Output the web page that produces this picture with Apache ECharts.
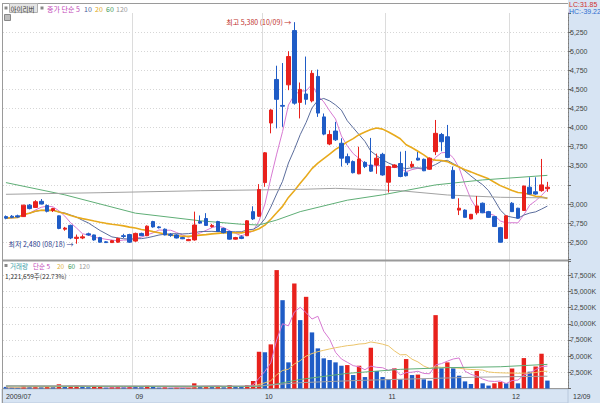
<!DOCTYPE html>
<html><head><meta charset="utf-8">
<script src="https://cdn.jsdelivr.net/npm/echarts@6/dist/echarts.min.js"></script>
<style>html,body{margin:0;padding:0;background:#fff}#c{width:600px;height:403px}</style>
</head><body><div id="c"></div>
<script>
// ---- data ----
const dates = ['07/31',
'08/03','08/04','08/05','08/06','08/07','08/10','08/11','08/12','08/13','08/14','08/17','08/18','08/19','08/20','08/21','08/24','08/25','08/26','08/27','08/28','08/31',
'09/01','09/02','09/03','09/04','09/07','09/08','09/09','09/10','09/11','09/14','09/15','09/16','09/17','09/18','09/21','09/22','09/23','09/24','09/25','09/28','09/29','09/30',
'10/01','10/05','10/06','10/07','10/08','10/09','10/12','10/13','10/14','10/15','10/16','10/19','10/20','10/21','10/22','10/23','10/26','10/27','10/28','10/29','10/30',
'11/02','11/03','11/04','11/05','11/06','11/09','11/10','11/11','11/12','11/13','11/16','11/17','11/18','11/19','11/20','11/23','11/24','11/25','11/26','11/27','11/30',
'12/01','12/02','12/03','12/04','12/07','12/08','12/09'];
const padCats = [' ', '  ', '   '];
const openP = [2835,2840,2845,2835,2985,2955,3035,2980,2915,2845,2670,2720,2550,2555,2610,2595,2560,2505,2495,2500,2585,2600,2515,2615,2585,2770,2700,2670,2600,2595,2560,2520,2530,2770,2810,2705,2770,2680,2640,2540,2570,2585,2900,2840,3280,4060,4630,4290,4560,5270,4330,4440,4350,4670,4140,3785,3955,3795,3620,3555,3395,3545,3510,3510,3650,3285,3480,3530,3410,3490,3600,3585,3455,3685,3910,3880,3440,2920,2920,2805,2885,3010,2900,2835,2690,2550,3010,2945,2915,3220,3160,3175,3200];
const closeP = [2815,2825,2830,2985,2940,3030,3000,2905,2940,2680,2685,2555,2565,2570,2595,2530,2500,2495,2520,2550,2575,2500,2615,2585,2710,2700,2690,2595,2590,2555,2545,2535,2725,2750,2720,2720,2640,2625,2540,2560,2550,2780,2805,3190,3670,4230,4370,4280,4930,4320,4500,4370,4710,4190,3915,3910,3840,3600,3540,3410,3590,3490,3430,3600,3380,3490,3510,3360,3370,3520,3575,3435,3600,3925,3815,3610,3075,2945,2825,2865,2975,2885,2825,2705,2500,2845,2900,2815,3235,3130,3130,3250,3220];
const highP = [2850,2855,2860,2990,3000,3050,3065,2995,2950,2850,2700,2730,2600,2600,2625,2600,2570,2515,2530,2560,2610,2610,2625,2625,2720,2780,2710,2680,2620,2605,2570,2545,2900,2850,2880,2740,2780,2690,2650,2570,2590,2790,2970,3260,3680,4240,4810,4845,5000,5380,4590,4930,4750,4760,4185,3965,4075,3860,3660,3570,3750,3560,3865,3660,3670,3500,3520,3685,3695,3560,3680,3595,3610,4100,3930,4035,3490,3075,2930,2870,3105,3020,2910,2840,2700,2850,3025,2950,3240,3350,3350,3590,3290];
const lowP = [2800,2815,2820,2830,2930,2950,2995,2890,2895,2670,2650,2540,2480,2540,2585,2520,2495,2490,2490,2495,2555,2490,2505,2580,2580,2690,2680,2590,2570,2550,2540,2515,2520,2740,2715,2690,2635,2615,2535,2535,2540,2580,2790,2830,3225,3925,3990,4010,4490,4300,4120,4300,4330,4140,3900,3770,3825,3490,3510,3400,3390,3470,3420,3395,3370,3150,3470,3350,3360,3470,3570,3430,3445,3640,3690,3600,3070,2855,2820,2800,2860,2880,2820,2700,2495,2545,2895,2810,2910,3125,3120,3160,3160];
// volume in thousands of shares
const volumeK = [250,180,150,420,300,350,200,280,220,650,300,420,480,350,200,260,280,150,220,300,200,380,300,200,420,300,150,200,120,180,120,150,800,350,390,250,300,200,540,300,250,540,1160,
5680,5600,6820,18300,13650,4040,16230,10570,14170,8670,6200,4660,4400,4040,3520,3620,2080,3520,1770,6300,2700,1770,1420,3120,1420,4550,2080,2150,1420,1200,11340,3120,4040,3120,1980,1100,700,2700,800,450,800,1000,800,3100,800,4700,2600,3400,5375,1222];
// long moving averages: [index, value]
const ma60Price = [[0,3280],[10,3120],[22,2880],[33,2780],[40,2735],[43,2725],[46,2790],[50,2900],[58,3050],[64,3120],[73,3250],[81,3315],[92,3375]];
const ma120Price = [[0,3127],[16,3148],[33,3174],[50,3192],[56,3205],[67,3174],[75,3118],[84,3088],[92,3080]];
const ma60Vol = [[0,390],[20,330],[43,320],[46,700],[50,1400],[58,2340],[67,2960],[75,3220],[84,3360],[92,3730]];
const ma120Vol = [[0,430],[43,400],[50,900],[60,1250],[70,1500],[80,1750],[92,1900]];
const monthLabelIdx = [0,22,44,65,86];
const monthLabels = ['2009/07','09','10','11','12'];
const monthLineIdx = [22,44,65,86];
const lastClose = 3220, lastChange = '-0.91%';
const highMark = {date:'10/09', value:5380};
const lowMark = {date:'08/18', value:2480};

// ---- build ----
const RED = '#e8211c', BLUE = '#1f5cc6';
const cats = dates.concat(padCats);
function sma(arr, n){
  return arr.map((_, i) => { const s = Math.max(0, i - n + 1); let t = 0; for (let k = s; k <= i; k++) t += arr[k]; return +(t / (i - s + 1)).toFixed(1); });
}
const kData = dates.map((d, i) => [openP[i], closeP[i], lowP[i], highP[i]]);
const volData = volumeK.map((v, i) => ({ value: v, itemStyle: { color: (i > 0 && v > volumeK[i - 1]) ? RED : BLUE } }));
const fmt = v => v.toLocaleString('en-US');
const NUMF = 'Liberation Sans, Arial, sans-serif';
const KRF = 'Noto Sans CJK KR, sans-serif';

function lineS(name, data, color, width, xi) {
  return { name, type: 'line', data, xAxisIndex: xi, yAxisIndex: xi, symbol: 'none', silent: true,
    lineStyle: { color, width }, z: 3, animation: false };
}
const xBase = (gi, showLabel) => ({
  type: 'category', gridIndex: gi, data: cats, boundaryGap: true,
  axisLine: { show: gi === 1, lineStyle: { color: '#9a9a9a', width: 1 } },
  axisTick: { show: false },
  axisLabel: showLabel ? {
    show: true, interval: (idx) => monthLabelIdx.includes(idx), align: 'left', margin: 4,
    formatter: (val, idx) => monthLabels[monthLabelIdx.indexOf(idx)], fontSize: 7, color: '#333', fontFamily: NUMF
  } : { show: false },
  splitLine: { show: true, interval: (idx) => monthLineIdx.includes(idx), lineStyle: { color: '#dcdcdc', width: 1 } }
});
const yBase = (gi, min, max, itv, f) => ({
  type: 'value', gridIndex: gi, position: 'right', min, max, interval: itv, scale: false,
  axisLine: { show: true, lineStyle: { color: '#8a8a8a' } },
  axisTick: { show: true, length: 3, lineStyle: { color: '#666' } },
  minorTick: { show: true, splitNumber: 5, length: 1, lineStyle: { color: '#777' } },
  axisLabel: { show: true, formatter: f, fontSize: 7, color: '#444', margin: 2, fontFamily: NUMF, showMinLabel: false, showMaxLabel: false },
  splitLine: { show: true, showMinLine: false, showMaxLine: false, lineStyle: { color: '#d6d6d6', type: [1, 2] } }
});

const chart = echarts.init(document.getElementById('c'), null, { renderer: 'svg' });
const t = (x, y, text, fill, extra) => Object.assign({ type: 'text', x, y, z: 50, silent: true,
  style: Object.assign({ text, fill, font: '7px ' + KRF, textVerticalAlign: 'middle' }, extra || {}) });

chart.setOption({
  animation: false,
  backgroundColor: '#fff',
  grid: [
    { left: 3, right: 32, top: 13, height: 248.3 },
    { left: 3, right: 32, top: 259.1, height: 129.4 }
  ],
  xAxis: [xBase(0, false), xBase(1, true)],
  yAxis: [
    yBase(0, 2250, 5500, 250, v => (Math.abs(v - lastClose) < 60 ? '' : fmt(v))),
    yBase(1, 0, 20000, 2500, v => fmt(v) + 'K')
  ],
  series: [
    { name: 'price', type: 'candlestick', data: kData, xAxisIndex: 0, yAxisIndex: 0, barWidth: 4, z: 5,
      itemStyle: { color: RED, color0: BLUE, borderColor: RED, borderColor0: BLUE, borderWidth: 1 },
      markPoint: { symbol: 'circle', symbolSize: 0, silent: true, data: [
        { coord: [highMark.date, highMark.value], label: { show: true, position: 'left', distance: 3,
          formatter: '최고 ' + fmt(highMark.value) + ' (' + highMark.date + ') →', color: '#c0302c', fontSize: 7, fontFamily: KRF } },
        { coord: [lowMark.date, lowMark.value], label: { show: true, position: 'left', distance: 3,
          formatter: '최저 ' + fmt(lowMark.value) + ' (' + lowMark.date + ') →', color: '#2a3c8c', fontSize: 7, fontFamily: KRF } }
      ] },
      markLine: { symbol: 'none', silent: true, lineStyle: { opacity: 0 }, data: [{ yAxis: lastClose }],
        label: { show: true, position: 'end', distance: 0, formatter: '{a|' + fmt(lastClose) + '}\n{b|' + lastChange + '}',
          rich: { a: { backgroundColor: '#1f5cc6', color: '#fff', width: 30, padding: [1, 0, 0, 3], fontSize: 7, fontFamily: NUMF, lineHeight: 8 },
                  b: { color: '#2f6fd0', fontSize: 7, fontFamily: NUMF, padding: [1, 0, 0, 5], lineHeight: 8 } } } }
    },
    lineS('MA5', sma(closeP, 5), '#d77ad2', 1, 0),
    lineS('MA10', sma(closeP, 10), '#5b6d9c', 1, 0),
    lineS('MA20', sma(closeP, 20), '#e8aa1c', 1.6, 0),
    lineS('MA60', ma60Price, '#5fae76', 1, 0),
    lineS('MA120', ma120Price, '#a2a2a2', 1, 0),
    { name: 'volume', type: 'bar', data: volData, xAxisIndex: 1, yAxisIndex: 1, barWidth: 4.4, z: 2 },
    lineS('VMA5', sma(volumeK, 5), '#d77ad2', 1, 1),
    lineS('VMA20', sma(volumeK, 20), '#ebc46a', 1, 1),
    lineS('VMA60', ma60Vol, '#5fae76', 1, 1),
    lineS('VMA120', ma120Vol, '#a2a2a2', 1, 1)
  ],
  graphic: [
    { type: 'rect', z: -10, silent: true, shape: { x: 568, y: 0, width: 32, height: 403 }, style: { fill: '#d7e4f3' } },
    { type: 'rect', z: -10, silent: true, shape: { x: 2, y: 389, width: 566, height: 14 }, style: { fill: '#d7e4f3', stroke: '#b8c8dc', lineWidth: 1 } },
    { type: 'line', z: 40, silent: true, shape: { x1: 2.5, y1: 3, x2: 2.5, y2: 403 }, style: { stroke: '#9a9a9a', lineWidth: 1 } },
    { type: 'line', z: 40, silent: true, shape: { x1: 2, y1: 3.5, x2: 568, y2: 3.5 }, style: { stroke: '#9a9a9a', lineWidth: 1 } },
    { type: 'line', z: 40, silent: true, shape: { x1: 2, y1: 260.5, x2: 568, y2: 260.5 }, style: { stroke: '#9a9a9a', lineWidth: 2 } },
    // price legend
    { type: 'rect', z: 45, silent: true, shape: { x: 4.5, y: 6.5, width: 3, height: 3 }, style: { fill: '#888' } },
    { type: 'rect', z: 45, silent: true, shape: { x: 9.5, y: 3.5, width: 28, height: 9 }, style: { fill: '#e4e4e4', stroke: '#b0b0b0' } },
    t(10.5, 8.5, '아이리버', '#333', { font: '6.5px ' + KRF }),
    { type: 'rect', z: 45, silent: true, shape: { x: 40.5, y: 6.5, width: 3, height: 3 }, style: { fill: '#888' } },
    t(47, 8.5, '종가 단순 5', '#c247b8'),
    t(84, 8.5, '10', '#4a5c9a'),
    t(95, 8.5, '20', '#e0a81a'),
    t(106, 8.5, '60', '#3e9a5a'),
    t(116, 8.5, '120', '#999'),
    { type: 'rect', z: 45, silent: true, shape: { x: 4.5, y: 14.5, width: 6, height: 6 }, style: { fill: '#bdbdbd', stroke: '#888' } },
    // volume legend
    { type: 'rect', z: 45, silent: true, shape: { x: 4.5, y: 264, width: 3, height: 3 }, style: { fill: '#888' } },
    t(10, 265.5, '거래량', '#3aa0a8', { font: '6.5px ' + KRF }),
    t(33, 265.5, '단순 5', '#c247b8', { font: '6.5px ' + KRF }),
    t(57, 265.5, '20', '#e0b440', { font: '6.5px ' + KRF }),
    t(68, 265.5, '60', '#3e9a5a', { font: '6.5px ' + KRF }),
    t(79, 265.5, '120', '#999', { font: '6.5px ' + KRF }),
    t(5, 275.5, '1,221,659주(22.73%)', '#333', { font: '6.5px ' + KRF }),
    // right-top info
    t(569, 4.5, 'LC:31.85', '#d03030', { font: '7px ' + NUMF }),
    t(569, 11.5, 'HC:-39.22', '#2f6fd0', { font: '7px ' + NUMF }),
    t(573, 396, '12/09', '#333', { font: '7px ' + NUMF })
  ]
});
</script></body></html>
